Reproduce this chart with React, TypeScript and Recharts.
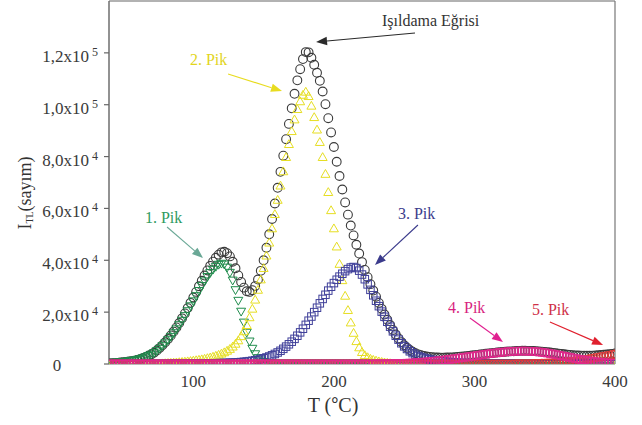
import React from 'react';
import { ScatterChart, Scatter, XAxis, YAxis, ReferenceLine, ReferenceDot, Label } from 'recharts';

// Temperature (°C)
const temperatures = [
  40, 42, 44, 46, 48, 50, 52, 54, 56, 58,
  60, 62, 64, 66, 68, 70, 72, 74, 76, 78,
  80, 82, 84, 86, 88, 90, 92, 94, 96, 98,
  100, 102, 104, 106, 108, 110, 112, 114, 116, 118,
  120, 122, 124, 126, 128, 130, 132, 134, 136, 138,
  140, 142, 144, 146, 148, 150, 152, 154, 156, 158,
  160, 162, 164, 166, 168, 170, 172, 174, 176, 178,
  180, 182, 184, 186, 188, 190, 192, 194, 196, 198,
  200, 202, 204, 206, 208, 210, 212, 214, 216, 218,
  220, 222, 224, 226, 228, 230, 232, 234, 236, 238,
  240, 242, 244, 246, 248, 250, 252, 254, 256, 258,
  260, 262, 264, 266, 268, 270, 272, 274, 276, 278,
  280, 282, 284, 286, 288, 290, 292, 294, 296, 298,
  300, 302, 304, 306, 308, 310, 312, 314, 316, 318,
  320, 322, 324, 326, 328, 330, 332, 334, 336, 338,
  340, 342, 344, 346, 348, 350, 352, 354, 356, 358,
  360, 362, 364, 366, 368, 370, 372, 374, 376, 378,
  380, 382, 384, 386, 388, 390, 392, 394, 396, 398,
  400,
];

// Intensities in units of 10^3 counts
const glowCurve = [
  0.24, 0.34, 0.35, 0.45, 0.56, 0.68, 0.79, 1.0, 1.11, 1.32,
  1.55, 1.87, 2.19, 2.62, 3.16, 3.69, 4.33, 5.18, 6.13, 7.2,
  8.36, 9.64, 11.01, 12.5, 14.1, 15.8, 17.61, 19.52, 21.55, 23.59,
  25.65, 27.81, 29.99, 32.09, 34.11, 36.08, 37.85, 39.47, 40.95, 42.18,
  43.06, 43.3, 42.74, 41.49, 39.44, 36.9, 34.17, 31.65, 29.45, 28.06,
  27.8, 28.46, 30.05, 32.57, 35.92, 40.0, 44.82, 50.05, 55.92, 61.9,
  67.95, 74.1, 80.35, 86.7, 92.6, 98.6, 104.2, 109.4, 113.7, 117.6,
  120.3, 120.2, 118.1, 115.4, 112.3, 109.2, 105.1, 100.2, 94.8, 89.3,
  83.7, 78.0, 72.5, 67.3, 62.3, 57.6, 53.4, 49.6, 46.0, 42.6,
  39.3, 36.3, 33.5, 30.8, 28.3, 25.95, 23.56, 21.27, 19.08, 17.05,
  15.02, 13.14, 11.37, 9.85, 8.44, 7.23, 6.25, 5.38, 4.72, 4.16,
  3.72, 3.39, 3.11, 2.9, 2.74, 2.64, 2.53, 2.5, 2.47, 2.47,
  2.48, 2.52, 2.57, 2.64, 2.72, 2.81, 2.92, 3.03, 3.15, 3.27,
  3.4, 3.53, 3.67, 3.8, 3.93, 4.06, 4.19, 4.3, 4.42, 4.53,
  4.63, 4.72, 4.8, 4.88, 4.94, 5.04, 5.07, 5.1, 5.1, 5.08,
  5.05, 5.0, 4.94, 4.86, 4.77, 4.66, 4.55, 4.42, 4.29, 4.16,
  4.02, 3.88, 3.75, 3.63, 3.52, 3.42, 3.34, 3.27, 3.22, 3.19,
  3.18, 3.19, 3.23, 3.29, 3.36, 3.45, 3.55, 3.66, 3.79, 3.92,
  4.07,
];

const peak1 = [
  0.2, 0.3, 0.3, 0.4, 0.5, 0.6, 0.7, 0.9, 1.0, 1.2,
  1.4, 1.7, 2.0, 2.4, 2.9, 3.4, 4.0, 4.8, 5.7, 6.7,
  7.8, 9.0, 10.3, 11.7, 13.2, 14.8, 16.5, 18.3, 20.2, 22.1,
  24.0, 26.0, 28.0, 29.9, 31.7, 33.4, 34.9, 36.2, 37.3, 38.1,
  38.5, 38.2, 37.0, 35.0, 32.0, 28.3, 24.2, 20.0, 15.8, 11.9,
  8.5, 5.7, 3.6, 2.1, 1.2, 0.6, 0.3, 0.15, 0.07, 0.03,
  0, 0, 0, 0, 0, 0, 0, 0, 0, 0,
  0, 0, 0, 0, 0, 0, 0, 0, 0, 0,
  0, 0, 0, 0, 0, 0, 0, 0, 0, 0,
  0, 0, 0, 0, 0, 0, 0, 0, 0, 0,
  0, 0, 0, 0, 0, 0, 0, 0, 0, 0,
  0, 0, 0, 0, 0, 0, 0, 0, 0, 0,
  0, 0, 0, 0, 0, 0, 0, 0, 0, 0,
  0, 0, 0, 0, 0, 0, 0, 0, 0, 0,
  0, 0, 0, 0, 0, 0, 0, 0, 0, 0,
  0, 0, 0, 0, 0, 0, 0, 0, 0, 0,
  0, 0, 0, 0, 0, 0, 0, 0, 0, 0,
  0, 0, 0, 0, 0, 0, 0, 0, 0, 0,
  0,
];

const peak2 = [
  0.03, 0.03, 0.04, 0.04, 0.05, 0.06, 0.07, 0.08, 0.09, 0.1,
  0.12, 0.14, 0.16, 0.19, 0.22, 0.25, 0.29, 0.33, 0.38, 0.44,
  0.5, 0.57, 0.64, 0.72, 0.81, 0.9, 1.0, 1.1, 1.22, 1.35,
  1.5, 1.65, 1.82, 2.0, 2.2, 2.45, 2.7, 3.0, 3.35, 3.75,
  4.2, 4.7, 5.3, 6.0, 6.9, 8.0, 9.3, 10.9, 12.8, 15.2,
  18.2, 21.5, 25.0, 28.8, 32.8, 37.2, 42.0, 47.0, 52.5, 58.0,
  63.5, 69.0, 74.5, 80.0, 85.0, 90.0, 94.5, 98.5, 101.5, 104.0,
  105.2, 103.5, 99.8, 95.4, 90.6, 85.8, 80.0, 73.5, 66.5, 59.5,
  52.5, 45.5, 38.8, 32.5, 26.5, 21.0, 16.2, 12.2, 9.0, 6.6,
  4.8, 3.6, 2.8, 2.2, 1.8, 1.5, 1.2, 1.0, 0.8, 0.65,
  0.5, 0.4, 0.3, 0.25, 0.2, 0.15, 0.12, 0.1, 0.08, 0.06,
  0.05, 0.04, 0.03, 0.03, 0.02, 0.02, 0, 0, 0, 0,
  0, 0, 0, 0, 0, 0, 0, 0, 0, 0,
  0, 0, 0, 0, 0, 0, 0, 0, 0, 0,
  0, 0, 0, 0, 0, 0, 0, 0, 0, 0,
  0, 0, 0, 0, 0, 0, 0, 0, 0, 0,
  0, 0, 0, 0, 0, 0, 0, 0, 0, 0,
  0, 0, 0, 0, 0, 0, 0, 0, 0, 0,
  0,
];

const peak3 = [
  0.01, 0.01, 0.01, 0.01, 0.01, 0.02, 0.02, 0.02, 0.02, 0.02,
  0.03, 0.03, 0.03, 0.03, 0.04, 0.04, 0.04, 0.05, 0.05, 0.06,
  0.06, 0.07, 0.07, 0.08, 0.09, 0.1, 0.11, 0.12, 0.13, 0.14,
  0.15, 0.16, 0.17, 0.19, 0.21, 0.23, 0.25, 0.27, 0.3, 0.33,
  0.36, 0.4, 0.44, 0.49, 0.54, 0.6, 0.67, 0.75, 0.85, 0.96,
  1.1, 1.26, 1.45, 1.67, 1.92, 2.2, 2.52, 2.9, 3.35, 3.87,
  4.45, 5.1, 5.85, 6.7, 7.6, 8.6, 9.7, 10.9, 12.2, 13.6,
  15.1, 16.7, 18.3, 20.0, 21.7, 23.4, 25.1, 26.7, 28.3, 29.8,
  31.2, 32.5, 33.7, 34.8, 35.8, 36.6, 37.2, 37.4, 37.0, 36.0,
  34.5, 32.7, 30.7, 28.6, 26.5, 24.4, 22.3, 20.2, 18.2, 16.3,
  14.4, 12.6, 10.9, 9.4, 8.0, 6.8, 5.8, 4.9, 4.2, 3.6,
  3.1, 2.7, 2.35, 2.05, 1.8, 1.6, 1.4, 1.25, 1.1, 0.97,
  0.85, 0.75, 0.66, 0.58, 0.51, 0.45, 0.4, 0.35, 0.31, 0.27,
  0.24, 0.21, 0.19, 0.17, 0.15, 0.13, 0.12, 0.1, 0.09, 0.08,
  0.07, 0.06, 0.05, 0.05, 0.04, 0.04, 0.03, 0.03, 0.03, 0.02,
  0.02, 0.02, 0.02, 0.02, 0.02, 0.02, 0.02, 0.02, 0.02, 0.02,
  0.02, 0.02, 0.02, 0.02, 0.02, 0.02, 0.02, 0.02, 0.02, 0.02,
  0.02, 0.02, 0.02, 0.02, 0.02, 0.02, 0.02, 0.02, 0.02, 0.02,
  0.02,
];

const peak4 = [
  0, 0, 0, 0, 0, 0, 0, 0, 0, 0,
  0, 0, 0, 0, 0, 0, 0, 0, 0, 0,
  0, 0, 0, 0, 0, 0, 0, 0, 0, 0,
  0, 0, 0, 0, 0, 0, 0, 0, 0, 0,
  0, 0, 0, 0, 0, 0, 0, 0, 0, 0,
  0, 0, 0, 0, 0, 0, 0, 0, 0, 0,
  0, 0, 0, 0, 0, 0, 0, 0, 0, 0,
  0, 0, 0, 0, 0, 0, 0, 0, 0, 0,
  0, 0, 0, 0, 0, 0, 0, 0, 0, 0,
  0, 0, 0, 0, 0, 0.05, 0.06, 0.07, 0.08, 0.1,
  0.12, 0.14, 0.17, 0.2, 0.24, 0.28, 0.33, 0.38, 0.44, 0.5,
  0.57, 0.65, 0.73, 0.82, 0.92, 1.02, 1.13, 1.25, 1.37, 1.5,
  1.63, 1.77, 1.91, 2.06, 2.21, 2.36, 2.52, 2.68, 2.84, 3.0,
  3.16, 3.32, 3.48, 3.63, 3.78, 3.93, 4.07, 4.2, 4.33, 4.45,
  4.56, 4.66, 4.75, 4.83, 4.9, 4.95, 4.98, 5.0, 4.99, 4.96,
  4.91, 4.84, 4.75, 4.64, 4.51, 4.36, 4.2, 4.02, 3.83, 3.63,
  3.42, 3.2, 2.98, 2.76, 2.54, 2.32, 2.11, 1.9, 1.7, 1.51,
  1.33, 1.16, 1.01, 0.87, 0.74, 0.63, 0.53, 0.44, 0.37, 0.3,
  0.25,
];

const peak5 = [
  0, 0, 0, 0, 0, 0, 0, 0, 0, 0,
  0, 0, 0, 0, 0, 0, 0, 0, 0, 0,
  0, 0, 0, 0, 0, 0, 0, 0, 0, 0,
  0, 0, 0, 0, 0, 0, 0, 0, 0, 0,
  0, 0, 0, 0, 0, 0, 0, 0, 0, 0,
  0, 0, 0, 0, 0, 0, 0, 0, 0, 0,
  0, 0, 0, 0, 0, 0, 0, 0, 0, 0,
  0, 0, 0, 0, 0, 0, 0, 0, 0, 0,
  0, 0, 0, 0, 0, 0, 0, 0, 0, 0,
  0, 0, 0, 0, 0, 0, 0, 0, 0, 0,
  0, 0, 0, 0, 0, 0, 0, 0, 0, 0,
  0, 0, 0, 0, 0, 0, 0, 0, 0, 0,
  0, 0, 0, 0, 0, 0, 0, 0, 0, 0,
  0, 0, 0, 0, 0, 0, 0, 0, 0, 0,
  0, 0, 0, 0, 0, 0.05, 0.06, 0.07, 0.08, 0.1,
  0.12, 0.14, 0.17, 0.2, 0.24, 0.28, 0.33, 0.38, 0.44, 0.51,
  0.58, 0.66, 0.75, 0.85, 0.96, 1.08, 1.21, 1.35, 1.5, 1.66,
  1.83, 2.01, 2.2, 2.4, 2.6, 2.8, 3.0, 3.2, 3.4, 3.6,
  3.8,
];

const xTicks = [100, 200, 300, 400];
const yTicks = [0, 20000, 40000, 60000, 80000, 100000, 120000];

// Annotation labels (data coordinates: T, counts)
const labelTexts = ['Işıldama Eğrisi', '2. Pik', '1. Pik', '3. Pik', '4. Pik', '5. Pik'];
const labelT = [234.2, 97.6, 65.6, 245.6, 281.2, 340.9];
const labelV = [132670, 117630, 56690, 58220, 21600, 20830];
const labelColors = ['#333333', '#e2d51c', '#2e9a5e', '#3b3b8c', '#d81f80', '#cf3048'];
// Arrows: from (T1,V1) to (T2,V2)
const arrowT1 = [257.7, 124.7, 81.3, 259.8, 296.8, 353.7];
const arrowV1 = [127660, 111840, 52830, 53600, 17740, 16200];
const arrowT2 = [187.3, 163.1, 106.9, 229.2, 320.3, 391.5];
const arrowV2 = [124190, 105290, 40880, 38180, 8480, 7330];
const arrowColors = ['#2a2a2a', '#e8dc20', '#6aa896', '#3b3b8c', '#e02090', '#e0202e'];

const FONT = "'Liberation Serif', 'Times New Roman', 'DejaVu Serif', serif";
const fontStyle = { fontFamily: FONT };

const toPoints = (vals: number[]) => temperatures.map((t, i) => ({ T: t, v: vals[i] * 1000 }));

const circleShape = (color: string, r: number) => (p: any) => {
  if (p.cx == null || p.cy == null) return <g />;
  return <circle cx={p.cx} cy={p.cy} r={r} fill="none" stroke={color} strokeWidth={1.1} />;
};
const squareShape = (color: string, s: number) => (p: any) => {
  if (p.cx == null || p.cy == null) return <g />;
  return <rect x={p.cx - s / 2} y={p.cy - s / 2} width={s} height={s} fill="none" stroke={color} strokeWidth={1} />;
};
const triShape = (color: string, s: number, down: boolean) => (p: any) => {
  if (p.cx == null || p.cy == null) return <g />;
  const h = s * 0.87;
  const cx = p.cx, cy = p.cy;
  const pts = down
    ? `${cx - s / 2},${cy - h / 2} ${cx + s / 2},${cy - h / 2} ${cx},${cy + h / 2}`
    : `${cx - s / 2},${cy + h / 2} ${cx + s / 2},${cy + h / 2} ${cx},${cy - h / 2}`;
  return <polygon points={pts} fill="none" stroke={color} strokeWidth={1} />;
};

const seriesDefs = [
  { name: 'Işıldama Eğrisi', vals: glowCurve, shape: circleShape('#3a3a3a', 4.4) },
  { name: '1. Pik', vals: peak1, shape: triShape('#1f8c4c', 9, true) },
  { name: '2. Pik', vals: peak2, shape: triShape('#e6de22', 9, false) },
  { name: '3. Pik', vals: peak3, shape: squareShape('#40409a', 7.5) },
  { name: '5. Pik', vals: peak5, shape: circleShape('#e23a3a', 4) },
  { name: '4. Pik', vals: peak4, shape: squareShape('#e0288c', 7.5) },
];

const YTick = (props: any) => {
  const { y, payload } = props;
  const v = payload.value;
  if (v === 0) {
    return (
      <text x={57} y={y} dy={7} textAnchor="middle" style={fontStyle} fontSize={17} fill="#3a3a3a">0</text>
    );
  }
  const exp = v >= 100000 ? 5 : 4;
  const mant = (v / Math.pow(10, exp)).toFixed(1).replace('.', ',');
  return (
    <text x={98} y={y} dy={9} textAnchor="end" style={fontStyle} fontSize={17} fill="#3a3a3a">
      <tspan>{mant + 'x10'}</tspan>
      <tspan dx={3} dy={-6} fontSize={12}>{String(exp)}</tspan>
    </text>
  );
};

const XTick = (props: any) => {
  const { x, payload } = props;
  return (
    <text x={x} y={387} textAnchor="middle" style={fontStyle} fontSize={17} fill="#3a3a3a">{payload.value}</text>
  );
};

const XTitle = () => (
  <text x={333} y={412} textAnchor="middle" style={fontStyle} fontSize={20} fill="#333">
    <tspan>T (</tspan>
    <tspan fontWeight="bold" fontSize={18} dy={-2}>°</tspan>
    <tspan dy={2}>C)</tspan>
  </text>
);

const YTitle = () => (
  <text x={25} y={193} transform="rotate(-90, 25, 193)" textAnchor="middle" dominantBaseline="central" style={fontStyle} fontSize={18} fill="#333">
    <tspan>I</tspan>
    <tspan fontSize={10} dy={4}>TL</tspan>
    <tspan dy={-4}>(sayım)</tspan>
  </text>
);

const arrowShape = (color: string) => (p: any) => {
  const { x1, y1, x2, y2 } = p;
  if ([x1, y1, x2, y2].some((n) => n == null || isNaN(n))) return <g />;
  const dx = x2 - x1, dy = y2 - y1;
  const len = Math.sqrt(dx * dx + dy * dy) || 1;
  const ux = dx / len, uy = dy / len;
  const hl = 11, hw = 4.2;
  const bx = x2 - ux * hl, by = y2 - uy * hl;
  const nx = -uy, ny = ux;
  return (
    <g>
      <line x1={x1} y1={y1} x2={bx} y2={by} stroke={color} strokeWidth={1.1} />
      <polygon points={`${x2},${y2} ${bx + nx * hw},${by + ny * hw} ${bx - nx * hw},${by - ny * hw}`} fill={color} />
    </g>
  );
};

const textShape = (text: string, color: string) => (p: any) => {
  if (p.cx == null || p.cy == null) return <g />;
  return (
    <text x={p.cx} y={p.cy} dominantBaseline="central" style={fontStyle} fontSize={16} fill={color}>{text}</text>
  );
};

export default function App() {
  return (
    <div style={{ position: 'absolute', left: 0, top: 0, width: 642, height: 425, background: '#fff' }}>
      <ScatterChart width={642} height={425} margin={{ top: 1, right: 27, bottom: 0, left: 1 }}>
        <XAxis
          type="number"
          dataKey="T"
          domain={[40, 400]}
          ticks={xTicks}
          allowDataOverflow
          height={61}
          tickLine={false}
          axisLine={{ stroke: '#777', strokeWidth: 1.2 }}
          tick={<XTick />}
        >
          <Label content={<XTitle />} />
        </XAxis>
        <YAxis
          type="number"
          dataKey="v"
          domain={[0, 140000]}
          ticks={yTicks}
          allowDataOverflow
          width={108}
          tickSize={5}
          tickLine={{ stroke: '#666', strokeWidth: 1.2 }}
          axisLine={{ stroke: '#6e6e6e', strokeWidth: 1.5 }}
          tick={<YTick />}
        >
          <Label content={<YTitle />} />
        </YAxis>
        <ReferenceLine y={140000} stroke="#999" strokeWidth={1.5} />
        <ReferenceLine x={400} stroke="#777" strokeWidth={1.2} />
        {seriesDefs.map((s) => (
          <Scatter key={s.name} name={s.name} data={toPoints(s.vals)} shape={s.shape} isAnimationActive={false} />
        ))}
        {labelTexts.map((t, i) => (
          <ReferenceLine
            key={'arr' + i}
            segment={[{ x: arrowT1[i], y: arrowV1[i] }, { x: arrowT2[i], y: arrowV2[i] }]}
            shape={arrowShape(arrowColors[i])}
            ifOverflow="visible"
          />
        ))}
        {labelTexts.map((t, i) => (
          <ReferenceDot
            key={'lbl' + i}
            x={labelT[i]}
            y={labelV[i]}
            r={0}
            ifOverflow="visible"
            shape={textShape(t, labelColors[i])}
          />
        ))}
      </ScatterChart>
    </div>
  );
}
